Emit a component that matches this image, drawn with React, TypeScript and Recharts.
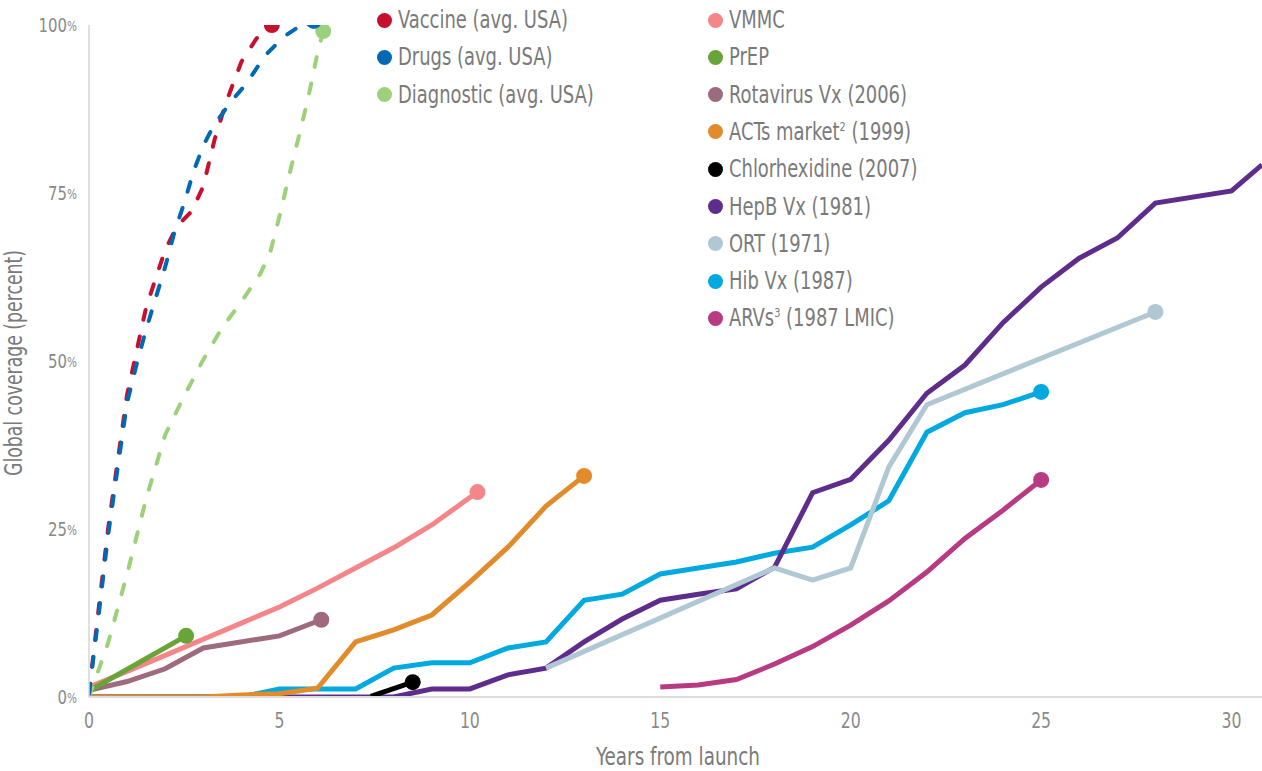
import { LineChart, Line, XAxis, YAxis } from "recharts";

const FONT =
  "'Liberation Sans Narrow', 'Arial Narrow', 'DejaVu Sans Condensed', sans-serif";
const TEXT = "#7a7a7a";
const SQUEEZE = 0.83; // the original face is narrower than anything installed

// years from launch / coverage (%) for each product
const vaccineYears = [0, 0.25, 0.5, 0.75, 1, 1.5, 2, 2.3, 2.7, 3, 3.3, 3.6, 4, 4.4, 4.8];
const vaccineCoverage = [0.5, 13, 25, 35, 45, 58, 66.5, 70, 72.3, 76, 83, 88.5, 94.5, 98, 100];

const drugsYears = [0, 0.25, 0.5, 0.75, 1, 1.25, 1.5, 2, 2.25, 2.5, 2.75, 3, 3.25, 3.7, 4.15, 4.6, 5.1, 5.5, 5.9];
const drugsCoverage = [0.5, 12, 24, 34, 43.8, 49.5, 54.7, 64, 69.3, 73.5, 78.3, 82, 84.8, 88.4, 91.4, 95.3, 98.2, 99.7, 100.6];

const diagnosticYears = [0, 0.5, 1, 1.5, 2, 2.5, 3, 3.5, 4, 4.5, 4.75, 5, 5.25, 5.5, 5.75, 6, 6.15];
const diagnosticCoverage = [0, 8, 18.3, 29.5, 39, 44.8, 50.2, 55, 58.8, 63, 66, 71.5, 77.5, 83.2, 89, 95.8, 99.1];

const vmmcYears = [0, 1, 2, 3, 4, 5, 6, 7, 8, 9, 10.2];
const vmmcCoverage = [1.5, 3.8, 6.2, 8.6, 11, 13.4, 16.2, 19.2, 22.2, 25.6, 30.5];

const prepYears = [0, 2.55];
const prepCoverage = [0.9, 9.1];

const rotaYears = [0, 1, 2, 3, 5, 6.1];
const rotaCoverage = [1, 2.3, 4.2, 7.3, 9.1, 11.5];

const actsYears = [0, 3, 4, 5, 6, 7, 8, 9, 10, 11, 12, 13];
const actsCoverage = [0, 0, 0.3, 0.5, 1.3, 8.2, 10, 12.2, 17.1, 22.3, 28.4, 32.9];

const chlorYears = [7.4, 8.5];
const chlorCoverage = [0.1, 2.2];

const hepbYears = [0, 8, 9, 10, 11, 12, 13, 14, 15, 16, 17, 18, 19, 20, 21, 22, 23, 24, 25, 26, 27, 28, 30, 30.8];
const hepbCoverage = [0, 0, 1.2, 1.2, 3.3, 4.3, 8.2, 11.6, 14.4, 15.3, 16.1, 19.3, 30.4, 32.4, 38.2, 45.2, 49.4, 55.7, 61, 65.3, 68.3, 73.5, 75.3, 79.2];

const ortYears = [12, 18, 19, 20, 21, 22, 28];
const ortCoverage = [4.3, 19.2, 17.4, 19.2, 34.2, 43.5, 57.3];

const hibYears = [0, 4, 5, 6, 7, 8, 9, 10, 11, 12, 13, 14, 15, 16, 17, 18, 19, 20, 21, 22, 23, 24, 25];
const hibCoverage = [0, 0, 1.2, 1.2, 1.2, 4.3, 5.1, 5.1, 7.3, 8.2, 14.4, 15.3, 18.3, 19.2, 20.1, 21.4, 22.3, 25.6, 29.2, 39.4, 42.3, 43.5, 45.4];

const arvYears = [15, 16, 17, 18, 19, 20, 21, 22, 23, 24, 25];
const arvCoverage = [1.5, 1.8, 2.6, 4.9, 7.5, 10.7, 14.3, 18.6, 23.6, 27.8, 32.3];

const xTicks = [0, 5, 10, 15, 20, 25, 30];
const yTicks = [0, 25, 50, 75, 100];

type Series = {
  id: string;
  name: string;
  sup?: string;
  suffix?: string;
  color: string;
  years: number[];
  values: number[];
  dashed?: boolean;
  endDot: boolean;
};

const series: Record<string, Series> = {
  vaccine: { id: "vaccine", name: "Vaccine (avg. USA)", color: "#C8102E", years: vaccineYears, values: vaccineCoverage, dashed: true, endDot: true },
  drugs: { id: "drugs", name: "Drugs (avg. USA)", color: "#0068B5", years: drugsYears, values: drugsCoverage, dashed: true, endDot: true },
  diagnostic: { id: "diagnostic", name: "Diagnostic (avg. USA)", color: "#9DD07A", years: diagnosticYears, values: diagnosticCoverage, dashed: true, endDot: true },
  vmmc: { id: "vmmc", name: "VMMC", color: "#F4868A", years: vmmcYears, values: vmmcCoverage, endDot: true },
  prep: { id: "prep", name: "PrEP", color: "#68A437", years: prepYears, values: prepCoverage, endDot: true },
  rota: { id: "rota", name: "Rotavirus Vx (2006)", color: "#9E6A7D", years: rotaYears, values: rotaCoverage, endDot: true },
  acts: { id: "acts", name: "ACTs market", sup: "2", suffix: " (1999)", color: "#E28B2B", years: actsYears, values: actsCoverage, endDot: true },
  chlor: { id: "chlor", name: "Chlorhexidine (2007)", color: "#000000", years: chlorYears, values: chlorCoverage, endDot: true },
  hepb: { id: "hepb", name: "HepB Vx (1981)", color: "#5E2D8C", years: hepbYears, values: hepbCoverage, endDot: false },
  ort: { id: "ort", name: "ORT (1971)", color: "#AFC8D4", years: ortYears, values: ortCoverage, endDot: true },
  hib: { id: "hib", name: "Hib Vx (1987)", color: "#00A9E0", years: hibYears, values: hibCoverage, endDot: true },
  arv: { id: "arv", name: "ARVs", sup: "3", suffix: " (1987 LMIC)", color: "#B73A82", years: arvYears, values: arvCoverage, endDot: true },
};

const legendLeft = ["vaccine", "drugs", "diagnostic"];
const legendRight = ["vmmc", "prep", "rota", "acts", "chlor", "hepb", "ort", "hib", "arv"];
// bottom to top
const drawOrder = ["hib", "hepb", "ort", "arv", "chlor", "acts", "rota", "vmmc", "prep", "diagnostic", "vaccine", "drugs"];

const toPoints = (s: Series) => s.years.map((x, i) => ({ x, y: s.values[i] }));

const YTick = (props: any) => {
  const { x, y, payload } = props;
  return (
    <g transform={`translate(${x},${y}) scale(${SQUEEZE},1)`}>
      <text x={0} y={0} dy="0.355em" textAnchor="end" fill="#8a8a8a" fontSize={20} fontFamily={FONT}>
        {payload.value}
        <tspan fontSize={14} dy={-1}>%</tspan>
      </text>
    </g>
  );
};

const XTick = (props: any) => {
  const { x, y, payload } = props;
  return (
    <g transform={`translate(${x},${y}) scale(${SQUEEZE},1)`}>
      <text x={0} y={0} dy="0.71em" textAnchor="middle" fill="#8a8a8a" fontSize={21} fontFamily={FONT}>
        {payload.value}
      </text>
    </g>
  );
};

const LegendColumn = ({ ids, dotX, textX }: { ids: string[]; dotX: number; textX: number }) => (
  <>
    {ids.map((id, i) => {
      const s = series[id];
      const cy = 20 + i * 37.3;
      return (
        <div key={id}>
          <span
            style={{
              position: "absolute",
              left: dotX - 7.5,
              top: cy - 7.5,
              width: 15,
              height: 15,
              borderRadius: "50%",
              background: s.color,
            }}
          />
          <span
            style={{
              position: "absolute",
              left: textX,
              top: cy - 15,
              height: 30,
              lineHeight: "30px",
              fontSize: 24,
              color: TEXT,
              whiteSpace: "nowrap",
              transform: `scaleX(${SQUEEZE})`,
              transformOrigin: "left center",
            }}
          >
            {s.name}
            {s.sup && (
              <span style={{ fontSize: 13, position: "relative", top: -9 }}>{s.sup}</span>
            )}
            {s.suffix}
          </span>
        </div>
      );
    })}
  </>
);

export default function App() {
  return (
    <div
      style={{
        position: "absolute",
        left: 0,
        top: 0,
        width: 1262,
        height: 771,
        background: "#fff",
        fontFamily: FONT,
      }}
    >
      <LineChart width={1262} height={771} margin={{ top: 25, right: 0, bottom: 0, left: 0 }}>
        <XAxis
          type="number"
          dataKey="x"
          domain={[0, 30.8]}
          allowDataOverflow
          ticks={xTicks}
          height={74}
          tickLine={false}
          tickSize={0}
          tickMargin={16}
          axisLine={{ stroke: "#dddddd", strokeWidth: 2 }}
          tick={XTick}
          label={() => (
            <text
              x={678}
              y={765}
              textAnchor="middle"
              fill={TEXT}
              fontSize={24}
              fontFamily={FONT}
              textLength={164}
              lengthAdjust="spacingAndGlyphs"
            >
              Years from launch
            </text>
          )}
        />
        <YAxis
          type="number"
          dataKey="y"
          domain={[0, 100]}
          allowDataOverflow
          ticks={yTicks}
          width={89}
          tickLine={false}
          tickSize={0}
          tickMargin={12}
          axisLine={{ stroke: "#d6d6d6", strokeWidth: 1.5 }}
          tick={YTick}
          label={() => (
            <text
              transform="rotate(-90)"
              x={-363}
              y={22}
              textAnchor="middle"
              fill={TEXT}
              fontSize={24}
              fontFamily={FONT}
              textLength={226}
              lengthAdjust="spacingAndGlyphs"
            >
              Global coverage (percent)
            </text>
          )}
        />
        {drawOrder.map((id) => {
          const s = series[id];
          const pts = toPoints(s);
          const last = pts.length - 1;
          return (
            <Line
              key={id}
              data={pts}
              dataKey="y"
              type="linear"
              stroke={s.color}
              strokeWidth={s.dashed ? 4 : 5}
              strokeDasharray={s.dashed ? "10 17" : undefined}
              strokeLinecap={s.dashed ? "round" : "butt"}
              isAnimationActive={false}
              activeDot={false}
              dot={(p: any) =>
                p.index === last && s.endDot ? (
                  <circle key={`${id}-end`} cx={p.cx} cy={p.cy} r={8} fill={s.color} />
                ) : (
                  <g key={`${id}-${p.index}`} />
                )
              }
            />
          );
        })}
      </LineChart>
      <LegendColumn ids={legendLeft} dotX={384} textX={398} />
      <LegendColumn ids={legendRight} dotX={715} textX={729} />
    </div>
  );
}
